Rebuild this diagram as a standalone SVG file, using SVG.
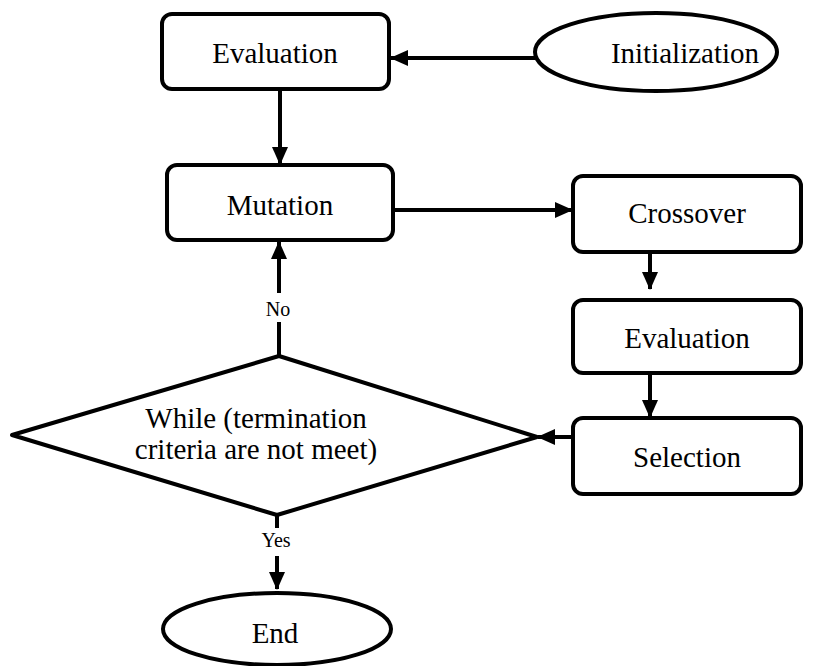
<svg xmlns="http://www.w3.org/2000/svg" width="830" height="666" viewBox="0 0 830 666">
<defs>
<style>
.box{fill:#fff;stroke:#000;stroke-width:4}
.ln{fill:none;stroke:#000;stroke-width:4}
text{fill:#000;text-anchor:middle}
.t{font-size:29px}
.s{font-size:20px}
</style>
<marker id="ah" markerUnits="userSpaceOnUse" markerWidth="18" markerHeight="18" viewBox="0 0 18 18" refX="17" refY="9" orient="auto">
<path d="M0,1 L18,9 L0,17 Z" fill="#000"/>
</marker>
</defs>
<g id="connectors">
<line class="ln" x1="535" y1="58" x2="391" y2="58" marker-end="url(#ah)"/>
<line class="ln" x1="280" y1="89" x2="280" y2="164" marker-end="url(#ah)"/>
<line class="ln" x1="393" y1="210" x2="572" y2="210" marker-end="url(#ah)"/>
<line class="ln" x1="650" y1="252" x2="650" y2="289" marker-end="url(#ah)"/>
<line class="ln" x1="650" y1="373" x2="650" y2="417" marker-end="url(#ah)"/>
<line class="ln" x1="573" y1="437" x2="538" y2="437" marker-end="url(#ah)"/>
<line class="ln" x1="279" y1="356" x2="279" y2="322"/>
<line class="ln" x1="279" y1="293" x2="279" y2="242" marker-end="url(#ah)"/>
<text class="s" font-family="Liberation Serif, Times New Roman, DejaVu Serif, serif" x="278" y="316">No</text>
<line class="ln" x1="277" y1="515" x2="277" y2="528"/>
<line class="ln" x1="277" y1="556" x2="277" y2="589" marker-end="url(#ah)"/>
<text class="s" font-family="Liberation Serif, Times New Roman, DejaVu Serif, serif" x="276" y="547">Yes</text>
</g>
<g id="init">
<ellipse class="box" cx="656" cy="52" rx="121" ry="39"/>
<text class="t" font-family="Liberation Serif, Times New Roman, DejaVu Serif, serif" x="685" y="63">Initialization</text>
</g>
<g id="eval1">
<rect class="box" x="162" y="14" width="227" height="75" rx="10"/>
<text class="t" font-family="Liberation Serif, Times New Roman, DejaVu Serif, serif" x="275" y="63">Evaluation</text>
</g>
<g id="mutation">
<rect class="box" x="167" y="165" width="226" height="75" rx="10"/>
<text class="t" font-family="Liberation Serif, Times New Roman, DejaVu Serif, serif" x="280" y="215">Mutation</text>
</g>
<g id="crossover">
<rect class="box" x="573" y="176" width="228" height="76" rx="10"/>
<text class="t" font-family="Liberation Serif, Times New Roman, DejaVu Serif, serif" x="687" y="223">Crossover</text>
</g>
<g id="eval2">
<rect class="box" x="573" y="300" width="228" height="73" rx="10"/>
<text class="t" font-family="Liberation Serif, Times New Roman, DejaVu Serif, serif" x="687" y="348">Evaluation</text>
</g>
<g id="selection">
<rect class="box" x="573" y="418" width="228" height="76" rx="10"/>
<text class="t" font-family="Liberation Serif, Times New Roman, DejaVu Serif, serif" x="687" y="467">Selection</text>
</g>
<g id="decision">
<polygon class="box" points="12,435 279,356 537,437 277,515" stroke-linejoin="round"/>
<text class="t" font-family="Liberation Serif, Times New Roman, DejaVu Serif, serif" x="256" y="428">While (termination</text>
<text class="t" font-family="Liberation Serif, Times New Roman, DejaVu Serif, serif" x="256" y="459">criteria are not meet)</text>
</g>
<g id="end">
<ellipse class="box" cx="277" cy="629" rx="114" ry="36"/>
<text class="t" font-family="Liberation Serif, Times New Roman, DejaVu Serif, serif" x="275" y="643">End</text>
</g>
</svg>
